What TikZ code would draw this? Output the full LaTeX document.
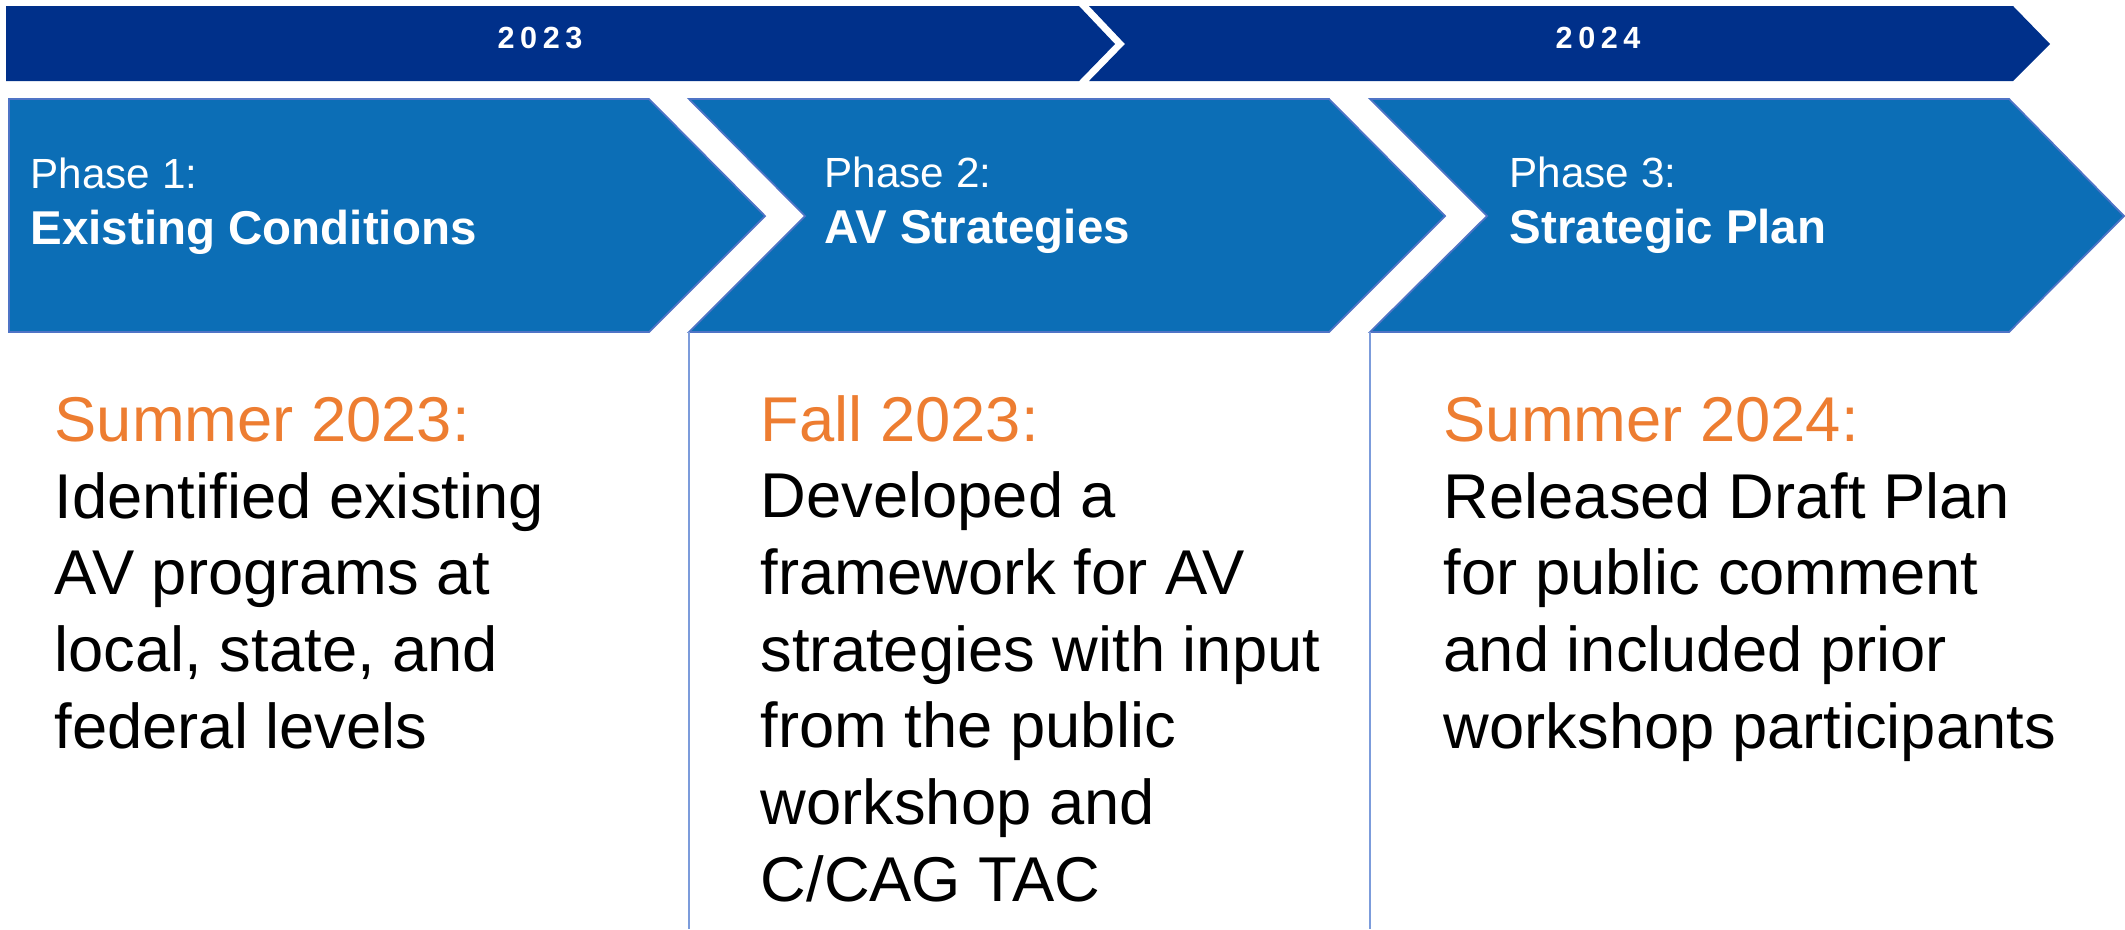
\documentclass[tikz,border=0pt]{standalone}
\usepackage{fontspec}
\setmainfont{Liberation Sans}
\usepackage{xcolor}
\usepackage{tikz}
\usetikzlibrary{positioning}
\definecolor{avnavy}{HTML}{00308A}
\definecolor{avblue}{HTML}{0C6EB6}
\definecolor{avedge}{HTML}{4F74C6}
\definecolor{avline}{HTML}{7C9CDB}
\definecolor{avorange}{HTML}{ED7D31}

\begin{document}
\begin{tikzpicture}[x=0.01cm,y=-0.01cm,
    yearlbl/.style={text=white,inner sep=0pt,anchor=base,font=\fontsize{8.7}{10}\selectfont\bfseries\addfontfeature{LetterSpace=18}},
    phaselbl/.style={text=white,inner sep=0pt,anchor=base west,font=\fontsize{12}{14}\selectfont},
    phasetitle/.style={text=white,inner sep=0pt,anchor=base west,font=\fontsize{13.5}{16}\selectfont\bfseries},
    bodytxt/.style={inner sep=0pt,anchor=base west,align=left,font=\fontsize{18}{21.8}\selectfont}]
  \useasboundingbox (0,0) rectangle (2125,929);
  % year bar
  \fill[avnavy] (6,6) -- (1079,6) -- (1115,44) -- (1079,81) -- (6,81) -- cycle;
  \fill[avnavy] (1089,6) -- (2013,6) -- (2050,44) -- (2013,81) -- (1089,81) -- (1125,44) -- cycle;
  \node[yearlbl] (y23) at (540,48) {2023};
  \node[yearlbl] (y24) at (1598,48) {2024};
  % phase chevrons
  \filldraw[fill=avblue,draw=avedge,line width=0.5pt] (9,99) -- (649,99) -- (765,216) -- (649,332) -- (9,332) -- cycle;
  \filldraw[fill=avblue,draw=avedge,line width=0.5pt] (689,99) -- (1329,99) -- (1445,216) -- (1329,332) -- (689,332) -- (805,216) -- cycle;
  \filldraw[fill=avblue,draw=avedge,line width=0.5pt] (1370,99) -- (2009,99) -- (2124,216) -- (2009,332) -- (1370,332) -- (1487,216) -- cycle;
  \draw[avline,line width=0.6pt] (689,332) -- (689,929);
  \draw[avline,line width=0.6pt] (1370,332) -- (1370,929);
  % phase labels
  \node[phaselbl] (ph1) at (30,188) {Phase 1:};
  \node[phasetitle] (ti1) at (30,244) {Existing Conditions};
  \node[phaselbl] (ph2) at (824,187) {Phase 2:};
  \node[phasetitle] (ti2) at (824,243) {AV Strategies};
  \node[phaselbl] (ph3) at (1509,187) {Phase 3:};
  \node[phasetitle] (ti3) at (1509,243) {Strategic Plan};
  % what was done (base = baseline of the last line)
  \node[bodytxt] (dn1) at (54,748) {\textcolor{avorange}{Summer 2023:}\\Identified existing\\AV programs at\\local, state, and\\federal levels};
  \node[bodytxt] (dn2) at (760,901) {\textcolor{avorange}{Fall 2023:}\\Developed a\\framework for AV\\strategies with input\\from the public\\workshop and\\C/CAG TAC};
  \node[bodytxt] (dn3) at (1443,748) {\textcolor{avorange}{Summer 2024:}\\Released Draft Plan\\for public comment\\and included prior\\workshop participants};
\end{tikzpicture}
\end{document}
